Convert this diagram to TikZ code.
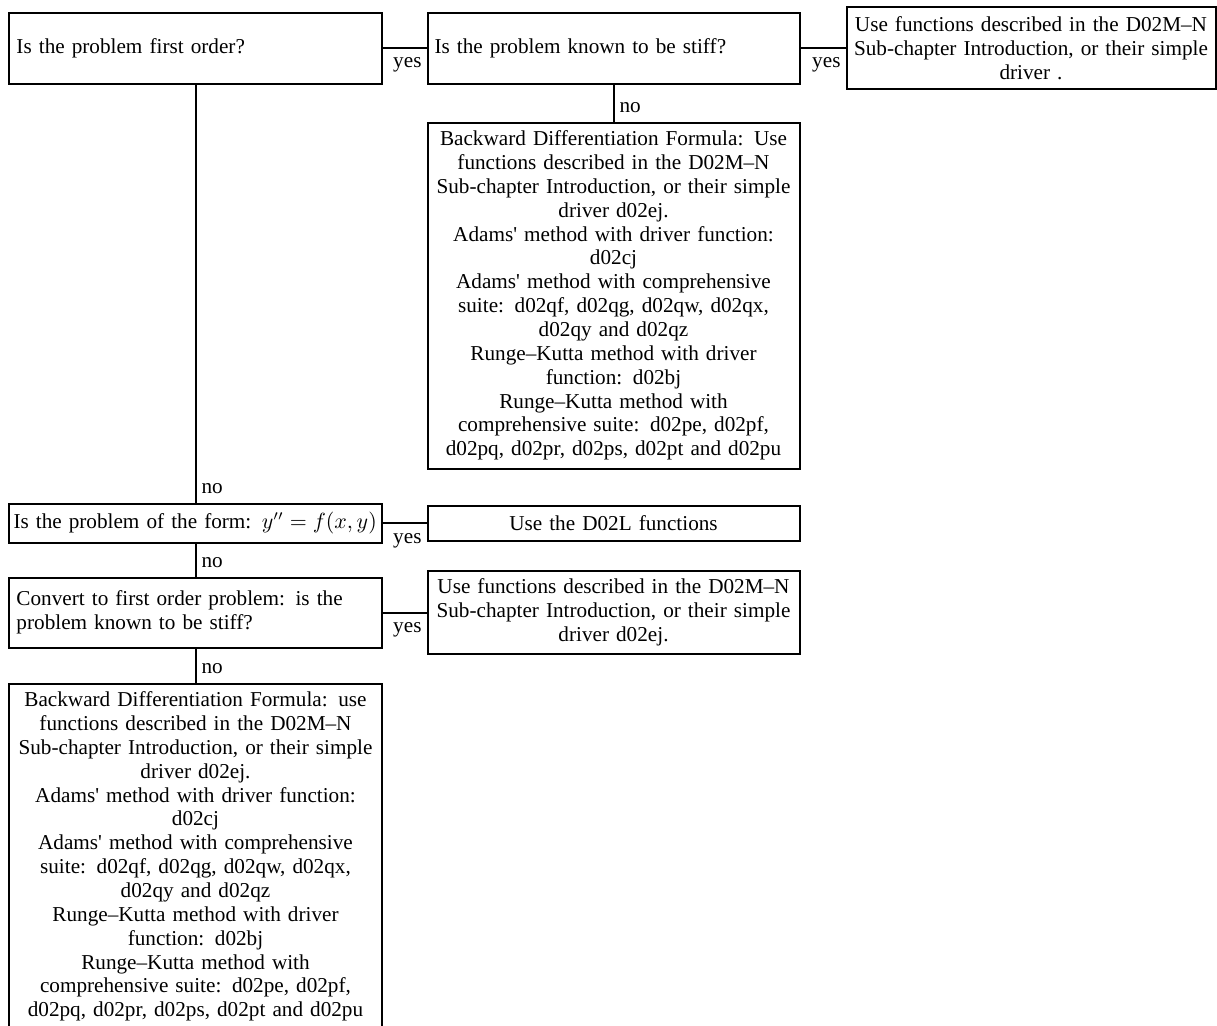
\documentclass[tikz,border=0pt]{standalone}
\usepackage{fontspec}
\setmainfont{Liberation Serif}[Ligatures=TeXOff]
\usetikzlibrary{positioning}

\begin{document}
\begin{tikzpicture}[
  font=\fontsize{10.6}{11.93}\selectfont,
  ask/.style={draw, line width=1pt, outer sep=0pt, text width=179pt, inner xsep=3.5pt, inner ysep=2pt, align=left, minimum height=35.5pt},
  ans/.style={draw, line width=1pt, outer sep=0pt, text width=182pt, inner xsep=2pt, inner ysep=2pt, align=center},
  link/.style={line width=1pt},
  lbl/.style={inner xsep=2.5pt, inner ysep=4.5pt}]
\useasboundingbox (-4.75pt,6.25pt) rectangle (603.75pt,-506.25pt);

\node[ask, anchor=north west] (A) at (0,0) {Is the problem first order?};
\node[ask] (B) [right = 23pt of A] {Is the problem known to be stiff?};
\node[ans, text width=180.5pt, minimum height=41pt] (C) [right = 23.5pt of B] {Use functions described in the D02M–N\\Sub-chapter Introduction, or their simple\\driver .};
\node[ans, minimum height=173pt] (D) [below = 19.5pt of B] {Backward Differentiation Formula: Use\\
functions described in the D02M–N\\
Sub-chapter Introduction, or their simple\\
driver d02ej.\\
Adams' method with driver function:\\
d02cj\\
Adams' method with comprehensive\\
suite: d02qf, d02qg, d02qw, d02qx,\\
d02qy and d02qz\\
Runge–Kutta method with driver\\
function: d02bj\\
Runge–Kutta method with\\
comprehensive suite: d02pe, d02pf,\\
d02pq, d02pr, d02ps, d02pt and d02pu};
\node[ans, minimum height=17.5pt] (F) [below = 18.5pt of D] {Use the D02L functions};
\node[ask, text width=182pt, inner xsep=2pt, minimum height=19.5pt] (E) [left = 23pt of F] {Is the problem of the form: $y''=f(x,y)$};
\node[ask, minimum height=35pt] (G) [below = 17.5pt of E] {Convert to first order problem: is the\\problem known to be stiff?};
\node[ans, minimum height=41.5pt] (H) [right = 23pt of G] {Use functions described in the D02M–N\\Sub-chapter Introduction, or their simple\\driver d02ej.};
\node[ans, minimum height=173pt] (I) [below = 18pt of G] {Backward Differentiation Formula: use\\
functions described in the D02M–N\\
Sub-chapter Introduction, or their simple\\
driver d02ej.\\
Adams' method with driver function:\\
d02cj\\
Adams' method with comprehensive\\
suite: d02qf, d02qg, d02qw, d02qx,\\
d02qy and d02qz\\
Runge–Kutta method with driver\\
function: d02bj\\
Runge–Kutta method with\\
comprehensive suite: d02pe, d02pf,\\
d02pq, d02pr, d02ps, d02pt and d02pu};

\draw[link] (A) -- (B) node[lbl, pos=1, below left] {yes};
\draw[link] (B) -- (C) node[lbl, pos=1, below left] {yes};
\draw[link] (B) -- (D) node[lbl, pos=1, above right] {no};
\draw[link] (A) -- (E) node[lbl, pos=1, above right] {no};
\draw[link] (E) -- (F) node[lbl, pos=1, below left] {yes};
\draw[link] (E) -- (G) node[lbl, pos=1, above right] {no};
\draw[link] (G) -- (H) node[lbl, pos=1, below left] {yes};
\draw[link] (G) -- (I) node[lbl, pos=1, above right] {no};

\end{tikzpicture}
\end{document}
